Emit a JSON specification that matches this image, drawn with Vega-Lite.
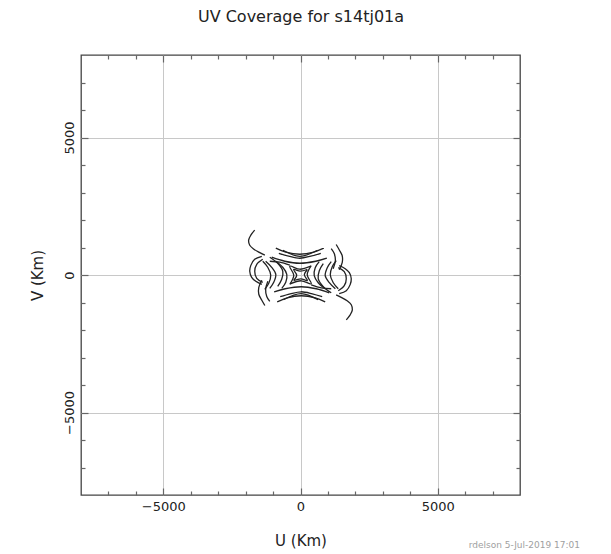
{
  "$schema": "https://vega.github.io/schema/vega-lite/v6.json",
  "width": 439,
  "height": 440,
  "autosize": {"type": "none"},
  "padding": {"left": 81, "top": 55, "right": 91, "bottom": 59},
  "background": "white",
  "title": {
    "text": "rdelson  5-Jul-2019 17:01",
    "orient": "bottom",
    "anchor": "end",
    "frame": "group",
    "font": "DejaVu Sans",
    "fontSize": 9,
    "fontWeight": "normal",
    "color": "#a0a0a0",
    "dx": 60,
    "dy": -11
  },
  "config": {
    "view": {"stroke": "#444444", "strokeWidth": 1.3},
    "axis": {
      "domain": false,
      "labelFont": "DejaVu Sans",
      "titleFont": "DejaVu Sans",
      "labelColor": "#222222",
      "titleColor": "#222222",
      "titleFontWeight": "normal",
      "tickColor": "#666666",
      "tickWidth": 1.2
    }
  },
  "data": {
    "values": [
      {"t": "A", "i": 0, "u": -1670, "v": 1630}, {"t": "A", "i": 1, "u": -1810, "v": 1450}, {"t": "A", "i": 2, "u": -1890, "v": 1270}, {"t": "A", "i": 3, "u": -1850, "v": 1080}, {"t": "A", "i": 4, "u": -1700, "v": 940}, {"t": "A", "i": 5, "u": -1520, "v": 830}, {"t": "A", "i": 6, "u": -1300, "v": 720},
      {"t": "A2", "i": 0, "u": 1670, "v": -1630}, {"t": "A2", "i": 1, "u": 1810, "v": -1450}, {"t": "A2", "i": 2, "u": 1890, "v": -1270}, {"t": "A2", "i": 3, "u": 1850, "v": -1080}, {"t": "A2", "i": 4, "u": 1700, "v": -940}, {"t": "A2", "i": 5, "u": 1520, "v": -830}, {"t": "A2", "i": 6, "u": 1300, "v": -720},
      {"t": "B", "i": 0, "u": -1410, "v": 680}, {"t": "B", "i": 1, "u": -1670, "v": 570}, {"t": "B", "i": 2, "u": -1810, "v": 350}, {"t": "B", "i": 3, "u": -1850, "v": 135}, {"t": "B", "i": 4, "u": -1780, "v": -85}, {"t": "B", "i": 5, "u": -1630, "v": -230}, {"t": "B", "i": 6, "u": -1410, "v": -340},
      {"t": "B2", "i": 0, "u": 1410, "v": -680}, {"t": "B2", "i": 1, "u": 1670, "v": -570}, {"t": "B2", "i": 2, "u": 1810, "v": -350}, {"t": "B2", "i": 3, "u": 1850, "v": -135}, {"t": "B2", "i": 4, "u": 1780, "v": 85}, {"t": "B2", "i": 5, "u": 1630, "v": 230}, {"t": "B2", "i": 6, "u": 1410, "v": 340},
      {"t": "B3", "i": 0, "u": -1376, "v": 573}, {"t": "B3", "i": 1, "u": -1595, "v": 390}, {"t": "B3", "i": 2, "u": -1668, "v": 135}, {"t": "B3", "i": 3, "u": -1595, "v": -120}, {"t": "B3", "i": 4, "u": -1376, "v": -266},
      {"t": "B4", "i": 0, "u": 1376, "v": -573}, {"t": "B4", "i": 1, "u": 1595, "v": -390}, {"t": "B4", "i": 2, "u": 1668, "v": -135}, {"t": "B4", "i": 3, "u": 1595, "v": 120}, {"t": "B4", "i": 4, "u": 1376, "v": 266},
      {"t": "C1", "i": 0, "u": -1410, "v": -190}, {"t": "C1", "i": 1, "u": -1520, "v": -450}, {"t": "C1", "i": 2, "u": -1520, "v": -700}, {"t": "C1", "i": 3, "u": -1410, "v": -920}, {"t": "C1", "i": 4, "u": -1300, "v": -1110},
      {"t": "C1b", "i": 0, "u": 1410, "v": 190}, {"t": "C1b", "i": 1, "u": 1520, "v": 450}, {"t": "C1b", "i": 2, "u": 1520, "v": 700}, {"t": "C1b", "i": 3, "u": 1410, "v": 920}, {"t": "C1b", "i": 4, "u": 1300, "v": 1110},
      {"t": "C2", "i": 0, "u": -1190, "v": -230}, {"t": "C2", "i": 1, "u": -1270, "v": -520}, {"t": "C2", "i": 2, "u": -1230, "v": -780}, {"t": "C2", "i": 3, "u": -1120, "v": -960},
      {"t": "C2b", "i": 0, "u": 1190, "v": 230}, {"t": "C2b", "i": 1, "u": 1270, "v": 520}, {"t": "C2b", "i": 2, "u": 1230, "v": 780}, {"t": "C2b", "i": 3, "u": 1120, "v": 960},
      {"t": "D1", "i": 0, "u": -1270, "v": 500}, {"t": "D1", "i": 1, "u": -1050, "v": 280}, {"t": "D1", "i": 2, "u": -900, "v": 25}, {"t": "D1", "i": 3, "u": -975, "v": -265}, {"t": "D1", "i": 4, "u": -1120, "v": -485},
      {"t": "D1b", "i": 0, "u": 1270, "v": -500}, {"t": "D1b", "i": 1, "u": 1050, "v": -280}, {"t": "D1b", "i": 2, "u": 900, "v": -25}, {"t": "D1b", "i": 3, "u": 975, "v": 265}, {"t": "D1b", "i": 4, "u": 1120, "v": 485},
      {"t": "D2", "i": 0, "u": -1120, "v": 645}, {"t": "D2", "i": 1, "u": -830, "v": 425}, {"t": "D2", "i": 2, "u": -645, "v": 135}, {"t": "D2", "i": 3, "u": -685, "v": -155}, {"t": "D2", "i": 4, "u": -830, "v": -410},
      {"t": "D2b", "i": 0, "u": 1120, "v": -645}, {"t": "D2b", "i": 1, "u": 830, "v": -425}, {"t": "D2b", "i": 2, "u": 645, "v": -135}, {"t": "D2b", "i": 3, "u": 685, "v": 155}, {"t": "D2b", "i": 4, "u": 830, "v": 410},
      {"t": "D3", "i": 0, "u": -1376, "v": 500}, {"t": "D3", "i": 1, "u": -1194, "v": 281}, {"t": "D3", "i": 2, "u": -1085, "v": -11}, {"t": "D3", "i": 3, "u": -1157, "v": -303}, {"t": "D3", "i": 4, "u": -1303, "v": -522},
      {"t": "D3b", "i": 0, "u": 1376, "v": -500}, {"t": "D3b", "i": 1, "u": 1194, "v": -281}, {"t": "D3b", "i": 2, "u": 1085, "v": 11}, {"t": "D3b", "i": 3, "u": 1157, "v": 303}, {"t": "D3b", "i": 4, "u": 1303, "v": 522},
      {"t": "D4", "i": 0, "u": -902, "v": 500}, {"t": "D4", "i": 1, "u": -646, "v": 281}, {"t": "D4", "i": 2, "u": -500, "v": 26}, {"t": "D4", "i": 3, "u": -537, "v": -266}, {"t": "D4", "i": 4, "u": -683, "v": -485},
      {"t": "D4b", "i": 0, "u": 902, "v": -500}, {"t": "D4b", "i": 1, "u": 646, "v": -281}, {"t": "D4b", "i": 2, "u": 500, "v": -26}, {"t": "D4b", "i": 3, "u": 537, "v": 266}, {"t": "D4b", "i": 4, "u": 683, "v": 485},
      {"t": "E1", "i": 0, "u": -900, "v": 975}, {"t": "E1", "i": 1, "u": -540, "v": 830}, {"t": "E1", "i": 2, "u": -25, "v": 755}, {"t": "E1", "i": 3, "u": 485, "v": 830}, {"t": "E1", "i": 4, "u": 850, "v": 975},
      {"t": "E1b", "i": 0, "u": 900, "v": -975}, {"t": "E1b", "i": 1, "u": 540, "v": -830}, {"t": "E1b", "i": 2, "u": 25, "v": -755}, {"t": "E1b", "i": 3, "u": -485, "v": -830}, {"t": "E1b", "i": 4, "u": -850, "v": -975},
      {"t": "E2", "i": 0, "u": -790, "v": 790}, {"t": "E2", "i": 1, "u": -430, "v": 685}, {"t": "E2", "i": 2, "u": -25, "v": 610}, {"t": "E2", "i": 3, "u": 375, "v": 685}, {"t": "E2", "i": 4, "u": 740, "v": 790},
      {"t": "E2b", "i": 0, "u": 790, "v": -790}, {"t": "E2b", "i": 1, "u": 430, "v": -685}, {"t": "E2b", "i": 2, "u": 25, "v": -610}, {"t": "E2b", "i": 3, "u": -375, "v": -685}, {"t": "E2b", "i": 4, "u": -740, "v": -790},
      {"t": "E3", "i": 0, "u": -640, "v": 900}, {"t": "E3", "i": 1, "u": -25, "v": 680}, {"t": "E3", "i": 2, "u": 620, "v": 900},
      {"t": "E3b", "i": 0, "u": 640, "v": -900}, {"t": "E3b", "i": 1, "u": 25, "v": -680}, {"t": "E3b", "i": 2, "u": -620, "v": -900},
      {"t": "E4", "i": 0, "u": -1048, "v": 646}, {"t": "E4", "i": 1, "u": -573, "v": 500}, {"t": "E4", "i": 2, "u": -26, "v": 427}, {"t": "E4", "i": 3, "u": 558, "v": 500}, {"t": "E4", "i": 4, "u": 960, "v": 610},
      {"t": "E4b", "i": 0, "u": 1048, "v": -646}, {"t": "E4b", "i": 1, "u": 573, "v": -500}, {"t": "E4b", "i": 2, "u": 26, "v": -427}, {"t": "E4b", "i": 3, "u": -558, "v": -500}, {"t": "E4b", "i": 4, "u": -960, "v": -610},
      {"t": "F1", "i": 0, "u": -390, "v": -340}, {"t": "F1", "i": 1, "u": -245, "v": -10}, {"t": "F1", "i": 2, "u": -390, "v": 320}, {"t": "F1", "i": 3, "u": -25, "v": 210}, {"t": "F1", "i": 4, "u": 375, "v": 320},
      {"t": "F1b", "i": 0, "u": 390, "v": 340}, {"t": "F1b", "i": 1, "u": 245, "v": 10}, {"t": "F1b", "i": 2, "u": 390, "v": -320}, {"t": "F1b", "i": 3, "u": 25, "v": -210}, {"t": "F1b", "i": 4, "u": -375, "v": -320},
      {"t": "F2", "i": 0, "u": -250, "v": -200}, {"t": "F2", "i": 1, "u": -140, "v": -5}, {"t": "F2", "i": 2, "u": -250, "v": 200}, {"t": "F2", "i": 3, "u": -10, "v": 140}, {"t": "F2", "i": 4, "u": 240, "v": 200},
      {"t": "F2b", "i": 0, "u": 250, "v": 200}, {"t": "F2b", "i": 1, "u": 140, "v": 5}, {"t": "F2b", "i": 2, "u": 250, "v": -200}, {"t": "F2b", "i": 3, "u": 10, "v": -140}, {"t": "F2b", "i": 4, "u": -240, "v": -200},
      {"t": "H1", "i": 0, "u": -1120, "v": 500}, {"t": "H1", "i": 1, "u": -755, "v": 465}, {"t": "H1", "i": 2, "u": -390, "v": 355},
      {"t": "H1b", "i": 0, "u": 1120, "v": -500}, {"t": "H1b", "i": 1, "u": 755, "v": -465}, {"t": "H1b", "i": 2, "u": 390, "v": -355}
    ]
  },
  "layer": [
    {
      "mark": {"type": "line", "color": "#222222", "strokeWidth": 1.3, "interpolate": "catmull-rom"},
      "encoding": {
        "x": {
          "field": "u",
          "type": "quantitative",
          "scale": {"domain": [-8000, 8000], "nice": false, "zero": false},
          "axis": {
            "orient": "bottom",
            "values": [-7000, -6000, -5000, -4000, -3000, -2000, -1000, 0, 1000, 2000, 3000, 4000, 5000, 6000, 7000],
            "format": "d",
            "labelExpr": "datum.value % 5000 === 0 ? datum.label : ''",
            "labelFontSize": 13,
            "labelPadding": 12,
            "grid": true,
            "gridColor": "#c8c8c8",
            "gridOpacity": {"condition": {"test": "datum.value % 5000 === 0", "value": 1}, "value": 0},
            "tickSize": {"condition": {"test": "datum.value % 5000 === 0", "value": -7}, "value": -4},
            "title": "U (Km)",
            "titleFontSize": 15,
            "titlePadding": 20
          }
        },
        "y": {
          "field": "v",
          "type": "quantitative",
          "scale": {"domain": [-8000, 8000], "nice": false, "zero": false},
          "axis": {
            "orient": "left",
            "values": [-7000, -6000, -5000, -4000, -3000, -2000, -1000, 0, 1000, 2000, 3000, 4000, 5000, 6000, 7000],
            "format": "d",
            "labelExpr": "datum.value % 5000 === 0 ? datum.label : ''",
            "labelFontSize": 13,
            "labelAngle": -90,
            "labelAlign": "center",
            "labelBaseline": "bottom",
            "labelPadding": 12,
            "grid": true,
            "gridColor": "#c8c8c8",
            "gridOpacity": {"condition": {"test": "datum.value % 5000 === 0", "value": 1}, "value": 0},
            "tickSize": {"condition": {"test": "datum.value % 5000 === 0", "value": -7}, "value": -4},
            "title": "V (Km)",
            "titleFontSize": 15,
            "titlePadding": 18
          }
        },
        "detail": {"field": "t"},
        "order": {"field": "i"}
      }
    },
    {
      "mark": {"type": "line", "strokeOpacity": 0},
      "encoding": {
        "x": {
          "field": "u",
          "type": "quantitative",
          "axis": {
            "orient": "top",
            "values": [-7000, -6000, -5000, -4000, -3000, -2000, -1000, 0, 1000, 2000, 3000, 4000, 5000, 6000, 7000],
            "labels": false,
            "grid": false,
            "tickSize": {"condition": {"test": "datum.value % 5000 === 0", "value": -7}, "value": -4},
            "title": "UV Coverage for s14tj01a",
            "titleFontSize": 16,
            "titlePadding": 30
          }
        },
        "y": {
          "field": "v",
          "type": "quantitative",
          "axis": {
            "orient": "right",
            "values": [-7000, -6000, -5000, -4000, -3000, -2000, -1000, 0, 1000, 2000, 3000, 4000, 5000, 6000, 7000],
            "labels": false,
            "grid": false,
            "tickSize": {"condition": {"test": "datum.value % 5000 === 0", "value": -7}, "value": -4},
            "title": null
          }
        },
        "detail": {"field": "t"},
        "order": {"field": "i"}
      }
    }
  ],
  "resolve": {"axis": {"x": "independent", "y": "independent"}}
}
